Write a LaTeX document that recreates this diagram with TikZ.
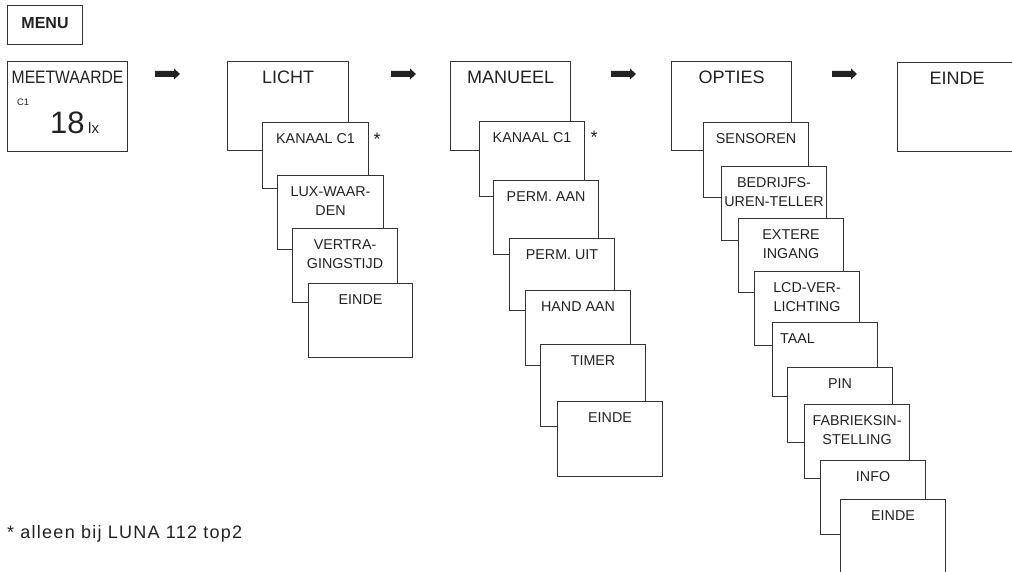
\documentclass[tikz,border=0pt]{standalone}
\usepackage{fontspec}
\setmainfont{Liberation Sans}
\definecolor{ln}{RGB}{51,51,51}
\definecolor{tx}{RGB}{34,34,34}
\tikzset{
 bx/.style={draw=ln, line width=1.1pt, fill=white, inner sep=0pt, anchor=north west},
 ttl/.style={text=tx, font=\fontsize{18}{21}\selectfont, inner sep=0pt, anchor=north},
 lb/.style={text=tx, font=\fontsize{14.3}{19}\selectfont, inner sep=0pt, anchor=north, align=center},
 arr/.style={fill=tx, draw=none},
 star/.style={text=tx, font=\fontsize{18}{20}\selectfont, inner sep=0pt, anchor=base},
}
\newcommand\boxat[5]{\node[bx, minimum width={(#4-#2)*1pt}, minimum height={(#5-#3)*1pt}] (#1) at (#2,#3) {};}
\newcommand\lbl[2]{\node[lb] (#1-t) at ([yshift=-11pt]#1.north) {#2};}
\newcommand\ttlat[2]{\node[ttl] (#1-t) at ([yshift=-10pt]#1.north) {#2};}
\newcommand\blockarrow[1]{\fill[arr] (#1) ++(0,-3) -- ++(19,0) -- ++(0,-2.5) -- ++(6,5.5) -- ++(-6,5.5) -- ++(0,-2.5) -- ++(-19,0) -- cycle;}
\begin{document}
\begin{tikzpicture}[x=1pt,y=-1pt]
\useasboundingbox (0,0) rectangle (1012,572);
% MENU
\boxat{menu}{7}{5}{82}{44}
\node[text=tx, font=\bfseries\fontsize{16}{18}\selectfont, inner sep=0pt] (menu-t) at ([yshift=2pt]menu.center) {MENU};
% MEETWAARDE
\boxat{meet}{7}{61}{127}{151}
\node[ttl] (meet-t) at ([yshift=-10pt]meet.north) {\scalebox{0.87}[1]{MEETWAARDE}};
\node[text=tx, font=\fontsize{9.4}{10}\selectfont, inner sep=0pt, anchor=base west] (c1) at (17,106) {C1};
\node[text=tx, font=\fontsize{31}{31}\selectfont, inner sep=0pt, anchor=base west] (v18) at (50,134) {18};
\node[text=tx, font=\fontsize{15}{15}\selectfont, inner sep=0pt, anchor=base west] (lx) at (88,134) {lx};
% arrows
\coordinate (a1) at (155,74);
\coordinate (a2) at (391,74);
\coordinate (a3) at (611,74);
\coordinate (a4) at (832,74);
\blockarrow{a1}
\blockarrow{a2}
\blockarrow{a3}
\blockarrow{a4}
% LICHT
\boxat{licht}{227}{61}{348}{150}
\ttlat{licht}{LICHT}
\boxat{l1}{262}{122}{368}{188}
\lbl{l1}{KANAAL C1}
\node[star] (s1) at (377,146) {*};
\boxat{l2}{277}{175}{383}{249}
\lbl{l2}{LUX-WAAR-\\DEN}
\boxat{l3}{292}{228}{397}{302}
\lbl{l3}{VERTRA-\\GINGSTIJD}
\boxat{l4}{308}{283}{412}{357}
\lbl{l4}{EINDE}
% MANUEEL
\boxat{man}{450}{61}{570}{150}
\ttlat{man}{MANUEEL}
\boxat{m1}{479}{121}{584}{196}
\lbl{m1}{KANAAL C1}
\node[star] (s2) at (594,144) {*};
\boxat{m2}{493}{180}{598}{254}
\lbl{m2}{PERM. AAN}
\boxat{m3}{509}{238}{614}{310}
\lbl{m3}{PERM. UIT}
\boxat{m4}{525}{290}{630}{365}
\lbl{m4}{HAND AAN}
\boxat{m5}{540}{344}{645}{426}
\lbl{m5}{TIMER}
\boxat{m6}{557}{401}{662}{476}
\lbl{m6}{EINDE}
% OPTIES
\boxat{opt}{671}{61}{791}{150}
\ttlat{opt}{OPTIES}
\boxat{o1}{703}{122}{808}{197}
\lbl{o1}{SENSOREN}
\boxat{o2}{721}{166}{826}{240}
\lbl{o2}{BEDRIJFS-\\UREN-TELLER}
\boxat{o3}{738}{218}{843}{292}
\lbl{o3}{EXTERE\\INGANG}
\boxat{o4}{754}{271}{859}{345}
\lbl{o4}{LCD-VER-\\LICHTING}
\boxat{o5}{772}{322}{877}{396}
\node[lb, anchor=north west] (o5-t) at ([xshift=8pt,yshift=-11pt]o5.north west) {TAAL};
\boxat{o6}{787}{367}{892}{442}
\lbl{o6}{PIN}
\boxat{o7}{804}{404}{909}{478}
\lbl{o7}{FABRIEKSIN-\\STELLING}
\boxat{o8}{820}{460}{925}{534}
\lbl{o8}{INFO}
\boxat{o9}{840}{499}{945}{578}
\lbl{o9}{EINDE}
% EINDE
\boxat{einde}{897}{62}{1017}{151}
\node[ttl] (einde-t) at ([yshift=-10pt]897+60,62) {EINDE};
% footnote
\node[text=tx, font=\fontsize{18}{20}\selectfont\addfontfeatures{LetterSpace=7}, inner sep=0pt, anchor=base west] (fn) at (7,538) {* alleen bij LUNA 112 top2};
\end{tikzpicture}
\end{document}
